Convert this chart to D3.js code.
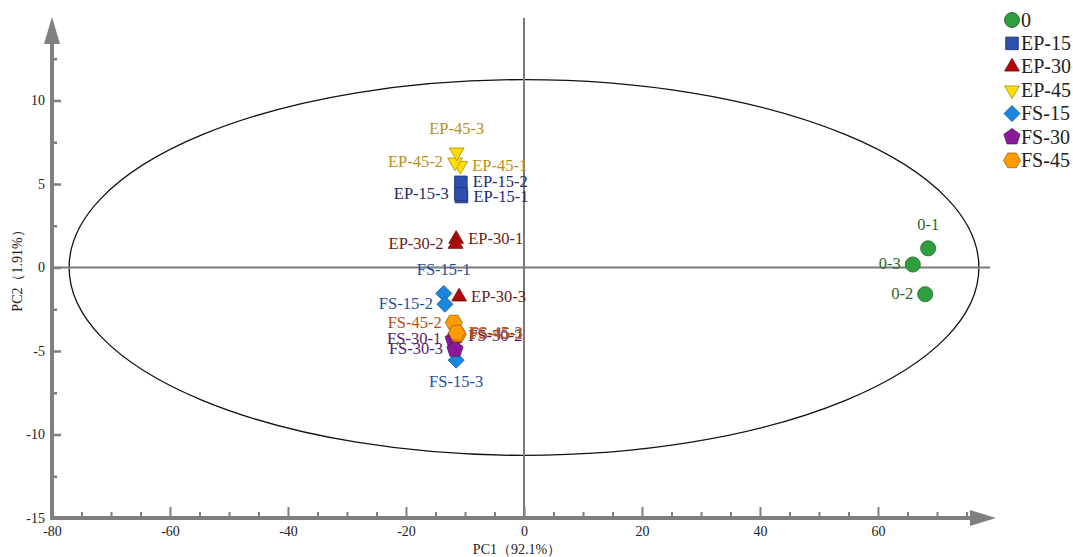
<!DOCTYPE html>
<html>
<head>
<meta charset="utf-8">
<script src="https://cdn.jsdelivr.net/npm/d3@7"></script>
<style>
  body { margin: 0; background: #fff; }
  text { font-family: "Liberation Serif", "Times New Roman", serif; }
</style>
</head>
<body>
<div id="chart"></div>
<script>
// Groups shown in the legend
const groups = ["0", "EP-15", "EP-30", "EP-45", "FS-15", "FS-30", "FS-45"];
const groupFill = ["#2e9e3e", "#2f4fae", "#b00a0a", "#ffdd00", "#1a86e0", "#8a1a9a", "#ff9a00"];
const groupLabelColor = ["#2a6a2a", "#1f2a6a", "#6a1a1a", "#b8901a", "#1f509a", "#5a1a6a", "#b0501a"];

// Sample scores (PC1, PC2)
const sampleNames = ["0-1", "0-2", "0-3",
  "EP-15-1", "EP-15-2", "EP-15-3",
  "EP-30-1", "EP-30-2", "EP-30-3",
  "EP-45-1", "EP-45-2", "EP-45-3",
  "FS-15-1", "FS-15-2", "FS-15-3",
  "FS-30-1", "FS-30-2", "FS-30-3",
  "FS-45-1", "FS-45-2", "FS-45-3"];
const sampleGroup = [0, 0, 0, 1, 1, 1, 2, 2, 2, 3, 3, 3, 4, 4, 4, 5, 5, 5, 6, 6, 6];
const pc1 = [68.5, 68.0, 65.9,
  -10.6, -10.7, -10.7,
  -11.5, -11.6, -11.0,
  -10.8, -11.7, -11.4,
  -13.6, -13.4, -11.5,
  -12.0, -11.5, -11.7,
  -11.2, -11.9, -11.4];
const pc2 = [1.15, -1.6, 0.18,
  4.25, 5.1, 4.4,
  1.7, 1.4, -1.75,
  6.1, 6.3, 6.9,
  -1.55, -2.2, -5.55,
  -4.3, -4.1, -4.9,
  -4.0, -3.3, -3.9];
// where each label sits relative to its point: r, l, t, b
const labelSide = ["t", "l", "l",
  "r", "r", "l",
  "r", "l", "r",
  "r", "l", "t",
  "t", "l", "b",
  "l", "r", "l",
  "r", "l", "r"];

// Confidence ellipse (center and radii in PC units)
const ellipse = { cx: 0, cy: 0, rx: 77.1, ry: 11.25 };

const xTicksMajor = [-80, -60, -40, -20, 0, 20, 40, 60];
const yTicksMajor = [-15, -10, -5, 0, 5, 10];

const W = 1073, H = 557;
const svg = d3.select("#chart").append("svg").attr("width", W).attr("height", H);

const x = d3.scaleLinear().domain([-80, 80]).range([52, 996]);
const y = d3.scaleLinear().domain([-15, 15]).range([518, 17]);
const axisGray = "#7f7f7f";

// ellipse
svg.append("ellipse")
  .attr("cx", x(ellipse.cx)).attr("cy", y(ellipse.cy))
  .attr("rx", x(ellipse.rx) - x(0)).attr("ry", y(0) - y(ellipse.ry))
  .attr("fill", "none").attr("stroke", "#111").attr("stroke-width", 1.3);

// zero lines
svg.append("line").attr("x1", x(-80)).attr("x2", 990).attr("y1", y(0)).attr("y2", y(0))
  .attr("stroke", "#7a7a7a").attr("stroke-width", 2);
svg.append("line").attr("x1", x(0)).attr("x2", x(0)).attr("y1", 18).attr("y2", y(-15))
  .attr("stroke", "#7a7a7a").attr("stroke-width", 2);

// x axis: minor + major ticks pointing up
const xMinor = d3.range(-75, 76, 5).filter(v => v % 20 !== 0);
svg.append("g").attr("transform", `translate(0,${y(-15)})`)
  .call(d3.axisBottom(x).tickValues(xMinor).tickSize(-6).tickFormat(""))
  .call(g => g.select(".domain").remove())
  .call(g => g.selectAll("line").attr("stroke", axisGray).attr("stroke-width", 2));
svg.append("g").attr("transform", `translate(0,${y(-15)})`)
  .call(d3.axisBottom(x).tickValues(xTicksMajor).tickSize(-11).tickPadding(8).tickFormat(d => String(d)))
  .call(g => g.select(".domain").remove())
  .call(g => g.selectAll("line").attr("stroke", axisGray).attr("stroke-width", 2))
  .call(g => g.selectAll("text").attr("font-family", "Liberation Serif").attr("font-size", 14)
    .attr("fill", "#222"));

// y axis: minor + major ticks pointing right
const yMinor = [-12.5, -7.5, -2.5, 2.5, 7.5, 12.5];
svg.append("g").attr("transform", `translate(${x(-80)},0)`)
  .call(d3.axisLeft(y).tickValues(yMinor).tickSize(-5).tickFormat(""))
  .call(g => g.select(".domain").remove())
  .call(g => g.selectAll("line").attr("stroke", axisGray).attr("stroke-width", 2.5));
svg.append("g").attr("transform", `translate(${x(-80)},0)`)
  .call(d3.axisLeft(y).tickValues(yTicksMajor).tickSize(-9).tickPadding(7).tickFormat(d => String(d)))
  .call(g => g.select(".domain").remove())
  .call(g => g.selectAll("line").attr("stroke", axisGray).attr("stroke-width", 2.5))
  .call(g => g.selectAll("text").attr("font-family", "Liberation Serif").attr("font-size", 14)
    .attr("fill", "#222"));

// axis lines with arrows
svg.append("line").attr("x1", x(-80)).attr("x2", 972).attr("y1", y(-15)).attr("y2", y(-15))
  .attr("stroke", axisGray).attr("stroke-width", 4);
svg.append("path").attr("d", `M970,${y(-15) - 8}L996,${y(-15)}L970,${y(-15) + 8}Z`).attr("fill", axisGray);
svg.append("line").attr("x1", x(-80)).attr("x2", x(-80)).attr("y1", y(-15) + 2).attr("y2", 42)
  .attr("stroke", axisGray).attr("stroke-width", 4);
svg.append("path").attr("d", `M${x(-80) - 8},44L${x(-80)},17L${x(-80) + 8},44Z`).attr("fill", axisGray);

// axis titles
svg.append("text").attr("x", 517).attr("y", 554).attr("text-anchor", "middle")
  .attr("font-size", 14).attr("fill", "#222").text("PC1（92.1%）");
svg.append("text").attr("transform", `translate(22,${y(0)}) rotate(-90)`).attr("text-anchor", "middle")
  .attr("font-size", 14).attr("fill", "#222").text("PC2（1.91%）");

// marker shapes
function polygon(n, r, rot) {
  const pts = d3.range(n).map(i => {
    const a = rot + i * 2 * Math.PI / n;
    return [r * Math.sin(a), -r * Math.cos(a)];
  });
  return "M" + pts.map(p => p.join(",")).join("L") + "Z";
}
function shapePath(g) {
  switch (g) {
    case 0: return d3.symbol(d3.symbolCircle, 180)();
    case 1: return d3.symbol(d3.symbolSquare, 160)();
    case 2: return polygon(3, 8.5, 0);
    case 3: return polygon(3, 8.5, Math.PI);
    case 4: return polygon(4, 8, 0);
    case 5: return polygon(5, 8.5, 0);
    case 6: return polygon(6, 8.5, Math.PI / 6);
  }
}

// points
const samples = sampleNames.map((n, i) => ({
  name: n, g: sampleGroup[i], x: pc1[i], y: pc2[i], side: labelSide[i]
}));
svg.append("g").selectAll("path").data(samples).join("path")
  .attr("d", d => shapePath(d.g))
  .attr("transform", d => `translate(${x(d.x)},${y(d.y)})`)
  .attr("fill", d => groupFill[d.g])
  .attr("stroke", d => d3.color(groupFill[d.g]).darker(1.2))
  .attr("stroke-width", 0.8);

// labels
svg.append("g").selectAll("text").data(samples).join("text")
  .attr("x", d => x(d.x) + (d.side === "r" ? 12 : d.side === "l" ? -12 : 0))
  .attr("y", d => y(d.y) + (d.side === "t" ? -18 : d.side === "b" ? 27 : 5))
  .attr("text-anchor", d => d.side === "r" ? "start" : d.side === "l" ? "end" : "middle")
  .attr("font-size", 16.5)
  .attr("fill", d => groupLabelColor[d.g])
  .text(d => d.name);

// legend
const legend = svg.append("g").attr("transform", "translate(1012,20)");
groups.forEach((name, i) => {
  const row = legend.append("g").attr("transform", `translate(0,${i * 23.4})`);
  row.append("path").attr("d", shapePath(i))
    .attr("fill", groupFill[i])
    .attr("stroke", d3.color(groupFill[i]).darker(1.2)).attr("stroke-width", 0.8);
  row.append("text").attr("x", 9).attr("y", 6.5).attr("font-size", 20).attr("fill", "#222").text(name);
});
</script>
</body>
</html>
